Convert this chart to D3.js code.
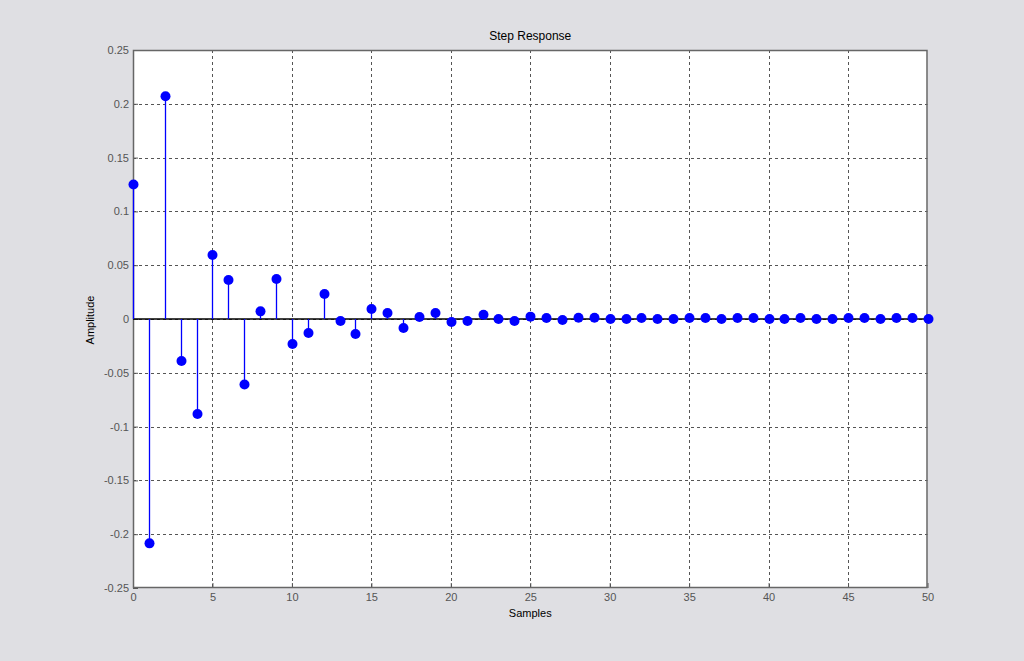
<!DOCTYPE html>
<html><head><meta charset="utf-8">
<script src="https://cdn.jsdelivr.net/npm/d3@7"></script>
<style>html,body{margin:0;padding:0;background:#dfdfe3;}</style>
</head><body>
<script>
const samples = d3.range(0, 51);
const amplitude = [0.125, -0.2085, 0.207, -0.039, -0.0883, 0.0595, 0.0362, -0.0608, 0.0071, 0.0372,
  -0.0232, -0.013, 0.0232, -0.0019, -0.0139, 0.0093, 0.0056, -0.0084, 0.0019, 0.0056,
  -0.0028, -0.0019, 0.004, 0.0, -0.0019, 0.0022, 0.001, -0.001, 0.0012, 0.0012,
  0.0, 0.0, 0.001, 0.0, 0.0, 0.001, 0.001, 0.0, 0.001, 0.001,
  0.0, 0.0, 0.001, 0.0, 0.0, 0.001, 0.001, 0.0, 0.001, 0.001, 0.0];
const xTicks = [0,5,10,15,20,25,30,35,40,45,50];
const yTicks = [-0.25,-0.2,-0.15,-0.1,-0.05,0,0.05,0.1,0.15,0.2,0.25];
const yTickLabels = ["-0.25","-0.2","-0.15","-0.1","-0.05","0","0.05","0.1","0.15","0.2","0.25"];
const title = "Step Response", xLabel = "Samples", yLabel = "Amplitude";

const W = 1024, H = 661;
const L = 133, R = 927.5, T = 50, B = 588;
const svg = d3.select("body").append("svg").attr("width", W).attr("height", H)
  .style("font-family", "Arial, 'Liberation Sans', sans-serif");
svg.append("rect").attr("width", W).attr("height", H).attr("fill", "#dfdfe3");

const x = d3.scaleLinear().domain([0, 50]).range([L, R]);
const y = d3.scaleLinear().domain([-0.25, 0.25]).range([B, T]);

svg.append("rect").attr("x", L).attr("y", T).attr("width", R - L).attr("height", B - T).attr("fill", "#fff");

// grid
const g = svg.append("g");
g.selectAll("line.vx").data(xTicks.slice(1, -1)).join("line")
  .attr("x1", d => Math.round(x(d)) + 0.5).attr("x2", d => Math.round(x(d)) + 0.5)
  .attr("y1", T).attr("y2", B).attr("stroke", "#555").attr("stroke-dasharray", "3,3");
g.selectAll("line.hy").data(yTicks.slice(1, -1)).join("line")
  .attr("y1", d => Math.round(y(d)) + 0.5).attr("y2", d => Math.round(y(d)) + 0.5)
  .attr("x1", L).attr("x2", R).attr("stroke", "#555").attr("stroke-dasharray", "3,3");

// axes with inward ticks
const xAxis = svg.append("g").attr("transform", `translate(0,${B})`)
  .call(d3.axisBottom(x).tickValues(xTicks).tickSize(-5).tickPadding(5).tickFormat(d3.format("d")));
const yAxis = svg.append("g").attr("transform", `translate(${L},0)`)
  .call(d3.axisLeft(y).tickValues(yTicks).tickSize(-5).tickPadding(4).tickFormat((d, i) => yTickLabels[i]));
[xAxis, yAxis].forEach(a => {
  a.select(".domain").remove();
  a.selectAll(".tick line").attr("stroke", "#555");
  a.selectAll(".tick text").attr("fill", "#555").style("font-size", "11px").style("font-family", "Arial, 'Liberation Sans', sans-serif");
});
svg.append("rect").attr("x", L + 0.5).attr("y", T + 0.5).attr("width", R - L - 1).attr("height", B - T - 1)
  .attr("fill", "none").attr("stroke", "#666").attr("stroke-width", 1.5);

// baseline
svg.append("line").attr("x1", x(0)).attr("x2", x(50)).attr("y1", y(0)).attr("y2", y(0))
  .attr("stroke", "#000").attr("stroke-width", 1.5);

// stems
svg.selectAll("line.stem").data(samples).join("line").attr("class", "stem")
  .attr("x1", d => Math.round(x(d)) + 0.5).attr("x2", d => Math.round(x(d)) + 0.5)
  .attr("y1", y(0)).attr("y2", (d, i) => y(amplitude[i]))
  .attr("stroke", "#0000ff").attr("stroke-width", 1.3);
// markers
svg.selectAll("circle.mk").data(samples).join("circle").attr("class", "mk")
  .attr("cx", d => Math.round(x(d)) + 0.5).attr("cy", (d, i) => y(amplitude[i]))
  .attr("r", 5).attr("fill", "#0000ff");

svg.append("text").attr("x", (L + R) / 2).attr("y", 40).attr("text-anchor", "middle")
  .style("font-size", "12px").attr("fill", "#000").text(title);
svg.append("text").attr("x", (L + R) / 2).attr("y", 617).attr("text-anchor", "middle")
  .style("font-size", "11px").attr("fill", "#000").text(xLabel);
svg.append("text").attr("transform", `translate(94,${(T + B) / 2 + 1}) rotate(-90)`).attr("text-anchor", "middle")
  .style("font-size", "11px").attr("fill", "#000").text(yLabel);
</script>
</body></html>
